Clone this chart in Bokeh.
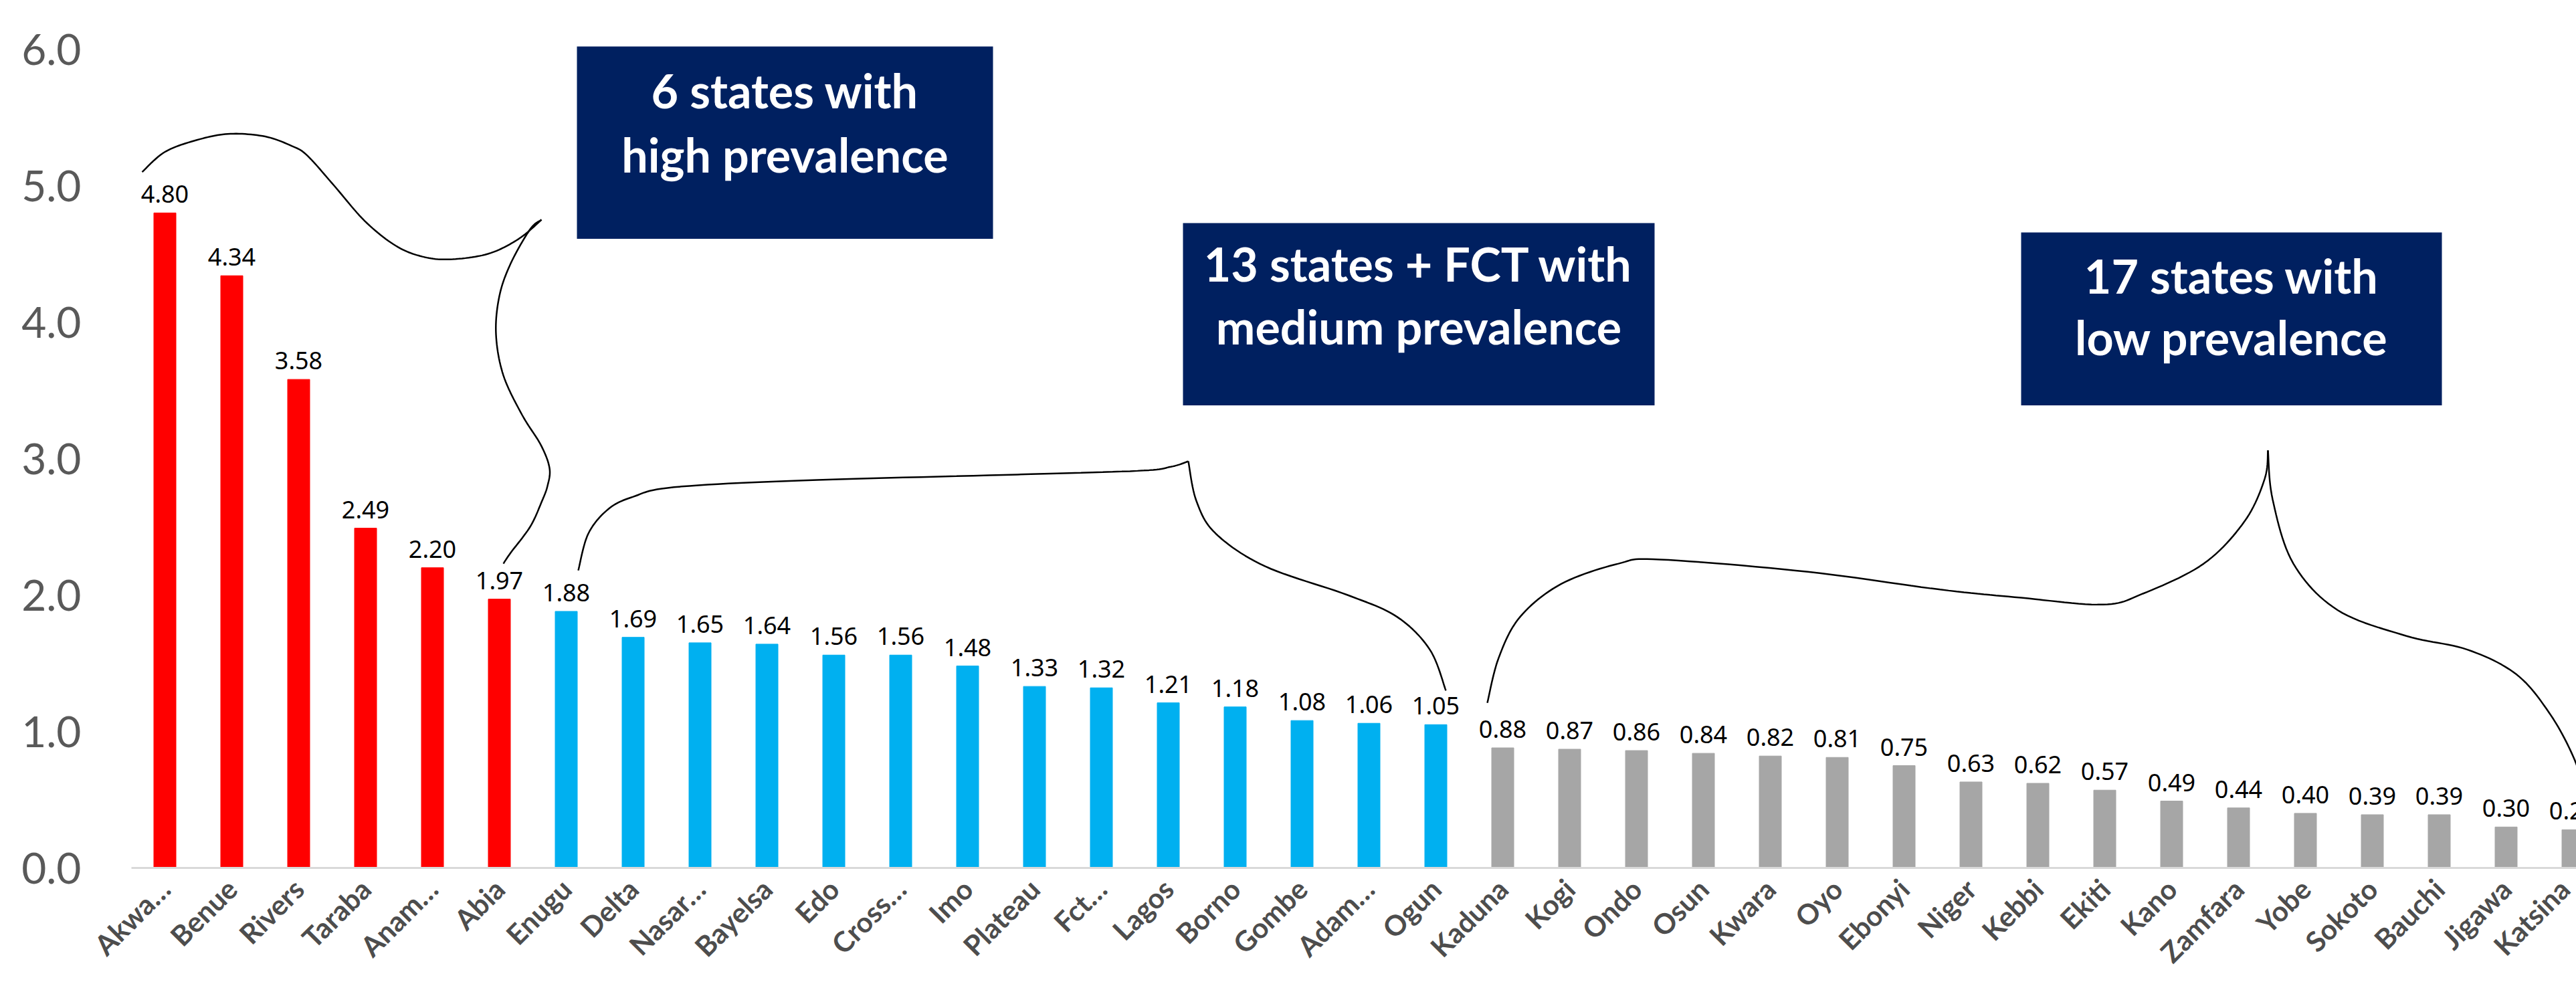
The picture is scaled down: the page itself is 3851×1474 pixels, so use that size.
import numpy as np
from math import pi
from bokeh.plotting import figure
from bokeh.models import Range1d, FixedTicker, PrintfTickFormatter, ColumnDataSource
from bokeh.core.properties import value
from bokeh.embed import file_html
from bokeh.resources import INLINE

# ---------------- data ----------------
states = ["Akwa…", "Benue", "Rivers", "Taraba", "Anam…", "Abia",
          "Enugu", "Delta", "Nasar…", "Bayelsa", "Edo", "Cross…", "Imo",
          "Plateau", "Fct…", "Lagos", "Borno", "Gombe", "Adam…", "Ogun",
          "Kaduna", "Kogi", "Ondo", "Osun", "Kwara", "Oyo", "Ebonyi", "Niger",
          "Kebbi", "Ekiti", "Kano", "Zamfara", "Yobe", "Sokoto", "Bauchi",
          "Jigawa", "Katsina"]
prevalence = [4.80, 4.34, 3.58, 2.49, 2.20, 1.97,
              1.88, 1.69, 1.65, 1.64, 1.56, 1.56, 1.48,
              1.33, 1.32, 1.21, 1.18, 1.08, 1.06, 1.05,
              0.88, 0.87, 0.86, 0.84, 0.82, 0.81, 0.75, 0.63,
              0.62, 0.57, 0.49, 0.44, 0.40, 0.39, 0.39,
              0.30, 0.28]
group_names = ["high", "medium", "low"]
group_sizes = [6, 14, 17]
group_colors = {"high": "#FF0000", "medium": "#00B0F0", "low": "#A6A6A6"}
box_texts = [["6 states with", "high prevalence"],
             ["13 states + FCT with", "medium prevalence"],
             ["17 states with", "low prevalence"]]
y_ticks = [0, 1, 2, 3, 4, 5, 6]

# ---------------- layout / decoration geometry (data units) ----------------
boxes = [  # left, right, bottom, top
    (6.16, 12.38, 4.61, 6.02),
    (15.22, 22.27, 3.39, 4.725),
    (27.75, 34.04, 3.39, 4.657),
]
box_line_y = [(5.70, 5.23), (4.43, 3.97), (4.34, 3.89)]

braces = [
    [(-0.34, 5.10), (0.01, 5.25), (0.52, 5.34), (0.98, 5.38), (1.50, 5.36),
     (1.90, 5.29), (2.13, 5.22), (2.53, 5.00), (2.99, 4.74), (3.45, 4.56),
     (3.85, 4.48), (4.26, 4.46), (4.83, 4.50), (5.29, 4.61), (5.63, 4.75)],
    [(5.63, 4.75), (5.46, 4.68), (5.17, 4.43), (5.00, 4.19), (4.95, 3.91),
     (5.06, 3.61), (5.34, 3.32), (5.62, 3.10), (5.75, 2.93), (5.72, 2.80),
     (5.63, 2.68), (5.46, 2.50), (5.17, 2.31), (5.06, 2.23)],
    [(6.18, 2.18), (6.33, 2.45), (6.63, 2.63), (7.00, 2.72), (7.61, 2.79),
     (9.54, 2.84), (12.54, 2.88), (14.54, 2.91), (15.04, 2.94), (15.30, 2.98)],
    [(15.30, 2.98), (15.42, 2.69), (15.71, 2.45), (16.45, 2.21), (17.68, 2.00),
     (18.42, 1.84), (18.91, 1.60), (19.15, 1.30)],
    [(19.77, 1.21), (19.94, 1.54), (20.26, 1.84), (20.87, 2.08), (21.73, 2.23),
     (22.35, 2.26), (24.56, 2.17), (26.54, 2.04), (27.75, 1.98), (28.97, 1.93),
     (29.57, 2.01), (30.48, 2.23), (31.09, 2.54), (31.39, 2.85), (31.44, 3.06)],
    [(31.44, 3.06), (31.51, 2.70), (31.82, 2.23), (32.48, 1.89), (33.51, 1.70),
     (34.42, 1.60), (35.15, 1.42), (35.64, 1.14), (36.00, 0.82), (36.24, 0.48)],
]


def smooth(points, n=12):
    pts = np.array(points, dtype=float)
    P = np.vstack([pts[0], pts, pts[-1]])
    xs, ys = [], []
    for i in range(1, len(P) - 2):
        p0, p1, p2, p3 = P[i - 1], P[i], P[i + 1], P[i + 2]
        for t in np.linspace(0, 1, n, endpoint=False):
            t2, t3 = t * t, t * t * t
            c = 0.5 * ((2 * p1) + (-p0 + p2) * t + (2 * p0 - 5 * p1 + 4 * p2 - p3) * t2
                       + (-p0 + 3 * p1 - 3 * p2 + p3) * t3)
            xs.append(c[0]); ys.append(c[1])
    xs.append(pts[-1][0]); ys.append(pts[-1][1])
    return xs, ys


# ---------------- build ----------------
groups = []
for g, n in zip(group_names, group_sizes):
    groups += [g] * n
xpos = list(range(len(states)))
src = ColumnDataSource(dict(
    x=xpos, v=prevalence,
    c=[group_colors[g] for g in groups],
    lbl=["%.2f" % v for v in prevalence],
))

p = figure(width=3851, height=1474, output_backend="svg", toolbar_location=None,
           x_range=Range1d(-0.5, 36.05), y_range=Range1d(0, 6.358),
           min_border_left=196, min_border_right=0, min_border_top=0,
           min_border_bottom=177)
p.outline_line_color = None
p.xgrid.visible = False
p.ygrid.visible = False
p.background_fill_color = "white"
p.border_fill_color = "white"

p.vbar(x="x", top="v", width=0.33, color="c", source=src)
p.text(x="x", y="v", text="lbl", source=src, text_align="center",
       text_baseline="alphabetic", y_offset=-28,
       text_font=value("Noto Sans"), text_font_size="36px", text_color="black")

for pts in braces:
    bx, by = smooth(pts)
    p.line(bx, by, line_color="black", line_width=2.5)

for (l, r, b, t), lines, ly in zip(boxes, box_texts, box_line_y):
    p.quad(left=[l], right=[r], bottom=[b], top=[t], fill_color="#002060",
           line_color=None)
    cx = (l + r) / 2
    p.text(x=[cx, cx], y=list(ly), text=lines, text_align="center",
           text_baseline="middle", text_color="white",
           text_font=value("Lato"), text_font_style="bold", text_font_size="70px")

# y axis
ya = p.yaxis[0]
ya.ticker = FixedTicker(ticks=y_ticks)
ya.formatter = PrintfTickFormatter(format="%.1f")
ya.axis_line_color = None
ya.major_tick_line_color = None
ya.minor_tick_line_color = None
ya.major_label_standoff = 69
ya.major_label_text_font = "Lato"
ya.major_label_text_font_size = "64px"
ya.major_label_text_color = "#595959"

# x axis
xa = p.xaxis[0]
xa.ticker = FixedTicker(ticks=xpos)
xa.major_label_overrides = {i: s for i, s in enumerate(states)}
xa.major_label_orientation = pi / 4
xa.axis_line_color = "#D9D9D9"
xa.axis_line_width = 3
xa.major_tick_line_color = None
xa.minor_tick_line_color = None
xa.major_label_standoff = 18
xa.major_label_text_font = "Lato"
xa.major_label_text_font_style = "bold"
xa.major_label_text_font_size = "42px"
xa.major_label_text_color = "#4D4D4D"

open("out.html", "w").write(file_html(p, INLINE))
